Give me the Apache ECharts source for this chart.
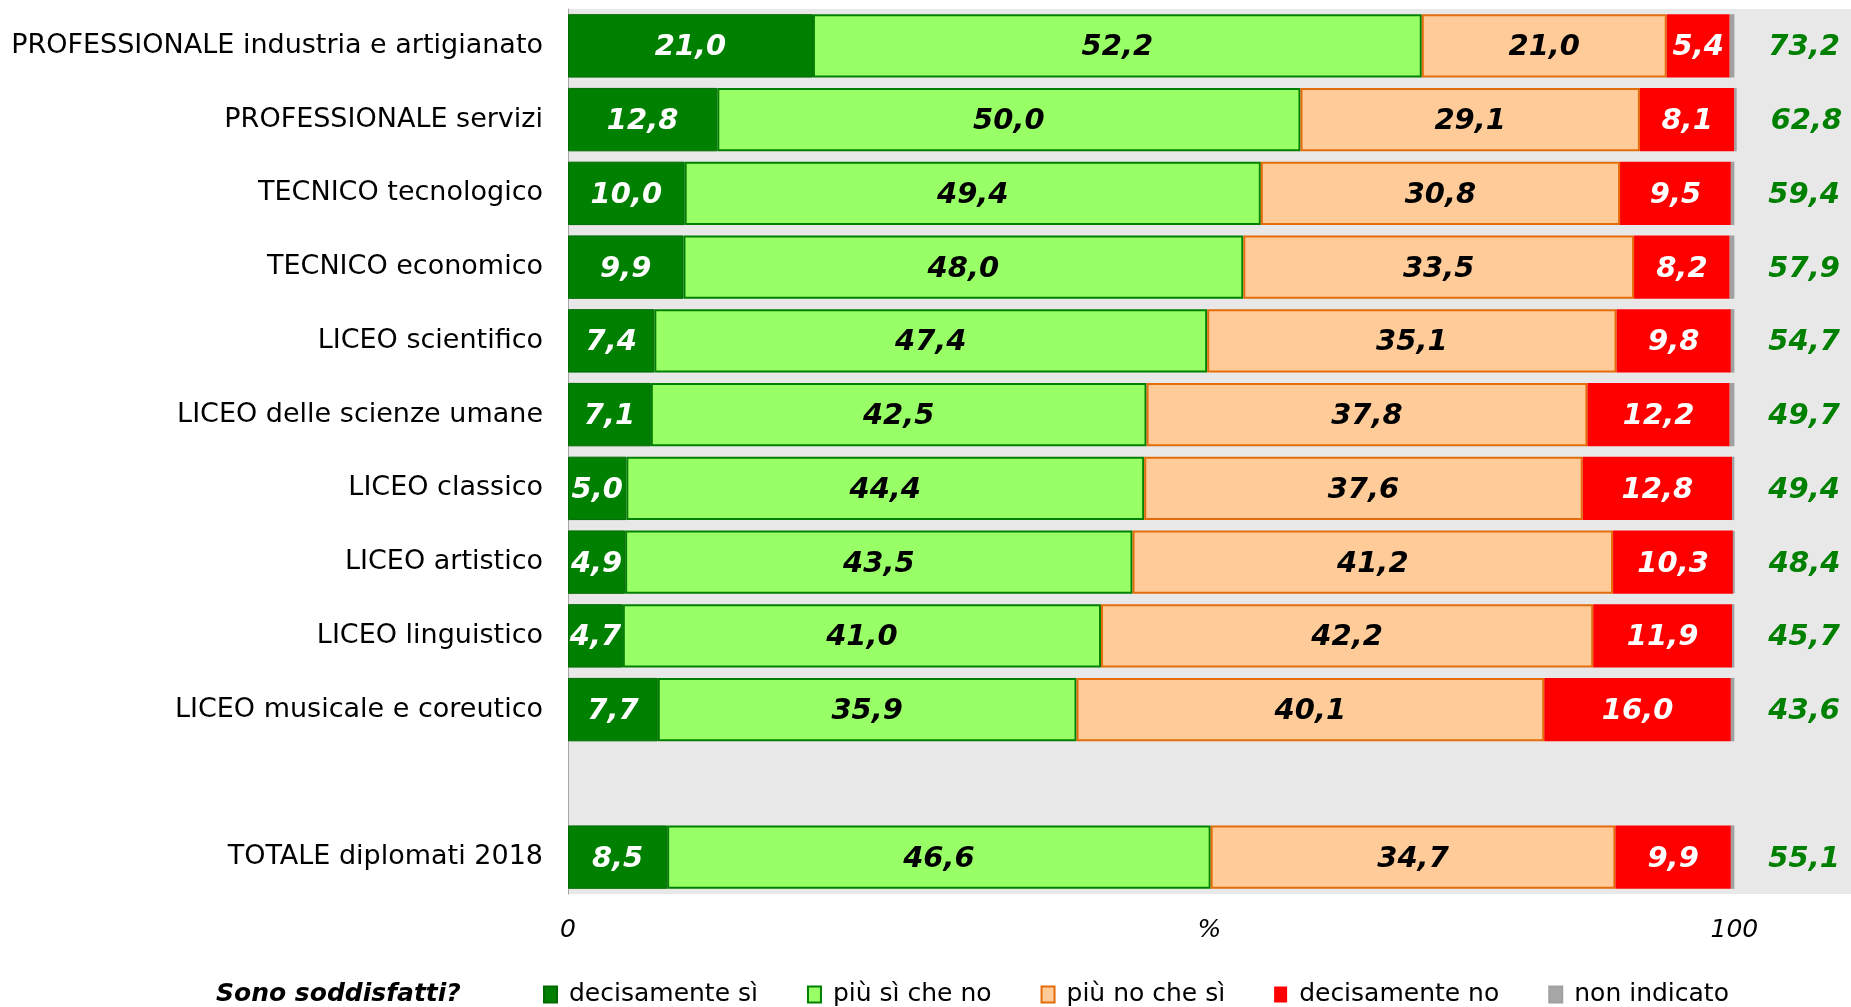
<!DOCTYPE html>
<html>
<head>
<meta charset="utf-8">
<script src="https://cdn.jsdelivr.net/npm/echarts@6/dist/echarts.min.js"></script>
<style>
  html, body { margin: 0; padding: 0; background: #fff; }
  #chart { width: 1851px; height: 1007px; }
</style>
</head>
<body>
<div id="chart"></div>
<script>
  // categorie (riga vuota prima del totale)
  var categories = [
    'PROFESSIONALE industria e artigianato',
    'PROFESSIONALE servizi',
    'TECNICO tecnologico',
    'TECNICO economico',
    'LICEO scientifico',
    'LICEO delle scienze umane',
    'LICEO classico',
    'LICEO artistico',
    'LICEO linguistico',
    'LICEO musicale e coreutico',
    '',
    'TOTALE diplomati 2018'
  ];
  var decisamenteSi = [21.0, 12.8, 10.0, 9.9, 7.4, 7.1, 5.0, 4.9, 4.7, 7.7, null, 8.5];
  var piuSiCheNo    = [52.2, 50.0, 49.4, 48.0, 47.4, 42.5, 44.4, 43.5, 41.0, 35.9, null, 46.6];
  var piuNoCheSi    = [21.0, 29.1, 30.8, 33.5, 35.1, 37.8, 37.6, 41.2, 42.2, 40.1, null, 34.7];
  var decisamenteNo = [5.4, 8.1, 9.5, 8.2, 9.8, 12.2, 12.8, 10.3, 11.9, 16.0, null, 9.9];
  var nonIndicato   = [0.4, 0.2, 0.3, 0.4, 0.3, 0.4, 0.2, 0.1, 0.2, 0.3, null, 0.3];
  var totaliSoddisfatti = [73.2, 62.8, 59.4, 57.9, 54.7, 49.7, 49.4, 48.4, 45.7, 43.6, null, 55.1];
  var xTickLabels = ['0', '100'];

  var FONT = 'DejaVu Sans, Verdana, sans-serif';

  function fmt(v) {
    return v.toFixed(1).replace('.', ',');
  }

  function barLabel(color) {
    return {
      show: true,
      position: 'inside',
      offset: [0, 2],
      color: color,
      fontFamily: FONT,
      fontSize: 29,
      fontWeight: 'bold',
      fontStyle: 'italic',
      formatter: function (p) { return p.value == null ? '' : fmt(p.value); }
    };
  }

  var myChart = echarts.init(document.getElementById('chart'));

  var option = {
    animation: false,
    title: {
      text: 'Sono soddisfatti?',
      left: 216,
      top: 982,
      padding: 0,
      textStyle: { fontFamily: FONT, fontSize: 25, fontWeight: 'bold', fontStyle: 'italic', color: '#000' }
    },
    legend: {
      left: 543,
      top: 982,
      padding: 0,
      itemGap: 49,
      itemWidth: 13,
      itemHeight: 16,
      textStyle: { fontFamily: FONT, fontSize: 25, color: '#000', padding: [0, 0, 0, 7] },
      data: [
        { name: 'decisamente sì', icon: 'rect' },
        { name: 'più sì che no', icon: 'rect' },
        { name: 'più no che sì', icon: 'rect' },
        { name: 'decisamente no', icon: 'rect' },
        { name: 'non indicato', icon: 'rect' }
      ]
    },
    grid: {
      left: 568,
      right: 0,
      top: 9,
      bottom: 113,
      show: true,
      backgroundColor: '#e8e8e8',
      borderWidth: 0
    },
    xAxis: {
      type: 'value',
      min: 0,
      max: 110,
      interval: 100,
      name: '%',
      nameLocation: 'middle',
      nameGap: 24,
      nameMoveOverlap: false,
      nameTextStyle: { fontFamily: FONT, fontSize: 25, fontStyle: 'italic', color: '#000', verticalAlign: 'top' },
      axisLine: { show: false },
      axisTick: { show: false },
      splitLine: { show: false },
      axisLabel: {
        showMaxLabel: false,
        margin: 24,
        fontFamily: FONT,
        fontSize: 25,
        fontStyle: 'italic',
        color: '#000',
        formatter: function (v) {
          return v === 0 ? xTickLabels[0] : (v === 100 ? xTickLabels[1] : '');
        }
      }
    },
    yAxis: {
      type: 'category',
      inverse: true,
      data: categories,
      axisLine: { show: true, lineStyle: { color: '#a6a6a6', width: 1 } },
      axisTick: { show: false },
      axisLabel: { margin: 25, fontFamily: FONT, fontSize: 27, color: '#000' }
    },
    series: [
      {
        name: 'decisamente sì',
        type: 'bar',
        stack: 'tot',
        barWidth: '86%',
        data: decisamenteSi,
        itemStyle: { color: '#008000', borderColor: '#006a00', borderWidth: 1 },
        label: barLabel('#fff')
      },
      {
        name: 'più sì che no',
        type: 'bar',
        stack: 'tot',
        data: piuSiCheNo,
        itemStyle: { color: '#99ff66', borderColor: '#008000', borderWidth: 2 },
        label: barLabel('#000')
      },
      {
        name: 'più no che sì',
        type: 'bar',
        stack: 'tot',
        data: piuNoCheSi,
        itemStyle: { color: '#ffcc99', borderColor: '#e46c0a', borderWidth: 2 },
        label: barLabel('#000')
      },
      {
        name: 'decisamente no',
        type: 'bar',
        stack: 'tot',
        data: decisamenteNo,
        itemStyle: { color: '#ff0000' },
        label: barLabel('#fff')
      },
      {
        name: 'non indicato',
        type: 'bar',
        stack: 'tot',
        data: nonIndicato,
        itemStyle: { color: '#a6a6a6', borderColor: '#a0a0a0', borderWidth: 2 },
        label: {
          show: true,
          position: 'right',
          distance: 34,
          offset: [0, 2],
          color: '#008000',
          fontFamily: FONT,
          fontSize: 29,
          fontWeight: 'bold',
          fontStyle: 'italic',
          formatter: function (p) {
            var t = totaliSoddisfatti[p.dataIndex];
            return t == null ? '' : fmt(t);
          }
        }
      }
    ]
  };

  myChart.setOption(option);
</script>
</body>
</html>
